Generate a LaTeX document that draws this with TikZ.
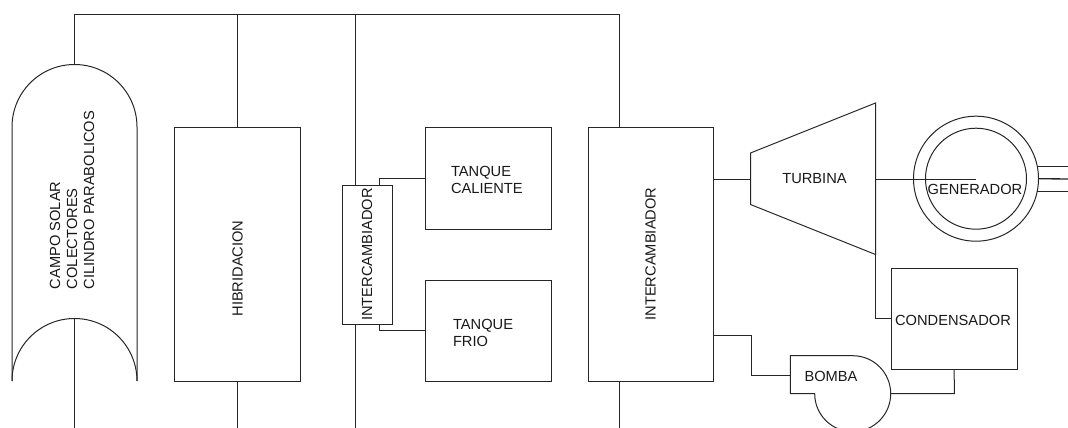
\documentclass[tikz,border=0pt]{standalone}
\usepackage{fontspec}
\setmainfont{Liberation Sans}
\def\px{0.75pt}
\tikzset{
  line/.style={line width=0.75pt,line cap=butt,line join=miter,draw=black!85},
  boxnode/.style={draw=black!85,line width=0.75pt,rectangle,inner sep=0pt,outer sep=0pt,fill=white},
  lab/.style={inner sep=0pt,outer sep=0pt,text=black!90,font=\fontsize{11}{12.75}\selectfont},
  vlab/.style={lab,rotate=90}
}
\begin{document}
\begin{tikzpicture}[x=0.75pt,y=-0.75pt]
\clip (0,0) rectangle (1068,428);
\fill[white] (0,0) rectangle (1068,428);
% free ends and junctions
\coordinate (top1) at (74.5,14.5);
\coordinate (top2) at (619,14.5);
\coordinate (colT) at (74.5,65);
\coordinate (colB) at (74.5,318.5);
\coordinate (bot1) at (74.5,428);
\coordinate (bot2) at (237.5,428);
\coordinate (bot3) at (355,428);
\coordinate (bot4) at (619,428);
% boxes
\node[boxnode,minimum width=125.5*\px,minimum height=253*\px] (hib) at (237.5,254.5) {};
\node[boxnode,minimum width=50*\px,minimum height=139*\px] (ic1) at (367,254.5) {};
\node[boxnode,minimum width=126*\px,minimum height=101*\px] (tc) at (488,178.5) {};
\node[boxnode,minimum width=126*\px,minimum height=101*\px] (tf) at (488,330.5) {};
\node[boxnode,minimum width=125*\px,minimum height=253*\px] (ic2) at (650.5,254.5) {};
\node[boxnode,minimum width=125.7*\px,minimum height=101.3*\px] (cond) at (954.2,318.7) {};
% connectors
\draw[line] (colT) -- (top1) -- (top2) -- (619,128);
\draw[line] (237.5,14.5) -- (hib.north);
\draw[line] (355,14.5) -- (355,185);
\draw[line] (colB) -- (bot1);
\draw[line] (hib.south) -- (bot2);
\draw[line] (355,324) -- (bot3);
\draw[line] (619,381) -- (bot4);
\draw[line] (379.5,185) |- (tc.west);
\draw[line] (379.5,324) |- (tf.west);
% collector
\draw[line] (12,381) -- (12,127) arc[start angle=180,end angle=360,x radius=62.5,y radius=62.5] -- (137,381);
\draw[line] (12,381) arc[start angle=180,end angle=360,x radius=62.5,y radius=62.5];
% turbine
\draw[line] (750.5,153) -- (875.5,103) -- (875.5,254.5) -- (750.5,204.5) -- cycle;
\draw[line] (713,179) -- (750.5,179);
% generator
\node[draw=black!85,line width=0.75pt,circle,inner sep=0pt,outer sep=0pt,minimum size=125*\px] (genO) at (976,178.7) {};
\node[draw=black!85,line width=0.75pt,circle,inner sep=0pt,outer sep=0pt,minimum size=101*\px] (genI) at (976,178.7) {};
\draw[line] (875.5,179) -- (976,179);
\coordinate (e1) at (1068,166);
\coordinate (e2) at (1068,179);
\coordinate (e3) at (1068,191);
\draw[line] (1037,166) -- (e1);
\draw[line,line width=1pt] (genO.east) -- (e2);
\draw[line] (1037,191) -- (e3);
% condenser link
\draw[line] (875.5,254.5) |- (cond.west);
% pump
\draw[line] (790.3,393.7) -- (790.3,355.7) -- (852.7,355.7)
  arc[start angle=90,end angle=-180,x radius=38,y radius=-38] -- cycle;
\draw[line] (713,335.3) -- (751.7,335.3) -- (751.7,375) -- (790.3,375);
\draw[line] (890.7,393.7) -- (954.3,393.7) -- (cond.south);
% labels
\node[vlab,align=left] (lcol) at (72,200) {CAMPO SOLAR\\COLECTORES\\CILINDRO PARABOLICOS};
\node[vlab] (lhib) at (237.5,268.5) {HIBRIDACION};
\node[vlab] (lic1) at (367,254.5) {INTERCAMBIADOR};
\node[vlab] (lic2) at (650.5,254) {INTERCAMBIADOR};
\node[lab,align=left,anchor=west] (ltc) at (451,180) {TANQUE\\CALIENTE};
\node[lab,align=left,anchor=west] (ltf) at (453,333) {TANQUE\\FRIO};
\node[lab] (ltur) at (814.5,179) {TURBINA};
\node[lab] (lgen) at (975,189.5) {GENERADOR};
\node[lab] (lcon) at (953,320) {CONDENSADOR};
\node[lab] (lbom) at (831,376) {BOMBA};
\end{tikzpicture}
\end{document}
